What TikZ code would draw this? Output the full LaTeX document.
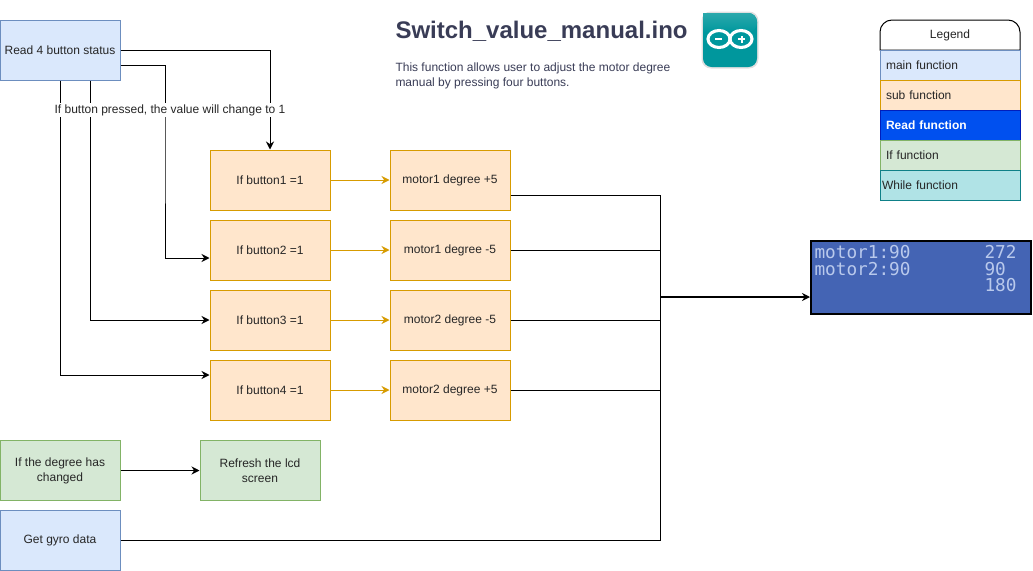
\documentclass[tikz,border=0pt]{standalone}
\usepackage{fontspec}
\setmainfont{Liberation Sans}
\newfontfamily\lcdfont{DejaVu Sans Mono}
\usepackage{tikz}
\usetikzlibrary{arrows.meta,positioning,calc}
\definecolor{mainfill}{HTML}{DAE8FC}
\definecolor{maindraw}{HTML}{6C8EBF}
\definecolor{subfill}{HTML}{FFE6CC}
\definecolor{subdraw}{HTML}{D79B00}
\definecolor{readfill}{HTML}{0050EF}
\definecolor{readdraw}{HTML}{001DBC}
\definecolor{iffill}{HTML}{D5E8D4}
\definecolor{ifdraw}{HTML}{82B366}
\definecolor{whilefill}{HTML}{B0E3E6}
\definecolor{whiledraw}{HTML}{0E8088}
\definecolor{titletext}{HTML}{393C56}
\definecolor{lcdfill}{HTML}{4464B4}
\definecolor{lcdtext}{HTML}{B9C9EC}
\definecolor{icon}{HTML}{00979D}
\definecolor{iconlight}{HTML}{2BA9AC}

\begin{document}
\begin{tikzpicture}[x=0.75pt, y=-0.75pt, line width=0.75pt,
    every node/.style={font=\fontsize{9}{11.25}\selectfont, text=black!85, inner sep=0pt},
    box/.style={draw, minimum width=90pt, minimum height=45pt, align=center},
    mainbox/.style={box, fill=mainfill, draw=maindraw},
    subbox/.style={box, fill=subfill, draw=subdraw},
    ifbox/.style={box, fill=iffill, draw=ifdraw},
    legendrow/.style={draw, minimum width=105pt, minimum height=22.5pt, text width=96pt, align=left},
    flow/.style={-{Stealth[length=6pt,width=6pt]}, black},
    flowsub/.style={-{Stealth[length=6pt,width=6pt]}, subdraw},
    wire/.style={black},
    lcdtxt/.style={font=\lcdfont\fontsize{13.3}{13.3}\selectfont, text=lcdtext, anchor=west}]
  \useasboundingbox (0,0) rectangle (1033,571);

  % Title
  \node[anchor=west, text=titletext, font=\bfseries\fontsize{18}{20}\selectfont] (title) at (395,31) {Switch\_value\_manual.ino};
  \node[anchor=north west, text=titletext, align=left] (descr) at (395,62) {This function allows user to adjust the motor degree\\manual by pressing four buttons.};

  % Arduino icon
  \fill[black!12, rounded corners=7pt] (701.5,11.5) rectangle (758.5,68.5);
  \fill[icon, rounded corners=6.5pt] (703,13) rectangle (757,67);
  \shade[top color=iconlight, bottom color=icon, rounded corners=6.5pt] (703,13) -- (757,13) -- (757,32) [sharp corners] -- (703,32) -- cycle;
  \draw[white, line width=2.3pt] (719,39) ellipse [x radius=11, y radius=8.5];
  \draw[white, line width=2.3pt] (741,39) ellipse [x radius=11, y radius=8.5];
  \fill[white] (715,38) rectangle (722,40);
  \fill[white] (738,38) rectangle (745,40);
  \fill[white] (740.5,35.5) rectangle (742.5,42.5);

  % Main column
  \node[mainbox] (read) at (60,50) {Read 4 button status};
  \node[ifbox] (changed) at (60,470.5) {If the degree has\\changed};
  \node[ifbox] (refresh) at (260,470.5) {Refresh the lcd\\screen};
  \node[mainbox] (gyro) at (60,540) {Get gyro data};

  % Button checks
  \node[subbox] (btnA) at (270,180) {If button1 =1};
  \node[subbox] (btnB) at (270,250) {If button2 =1};
  \node[subbox] (btnC) at (270,320) {If button3 =1};
  \node[subbox] (btnD) at (270,390) {If button4 =1};

  % Motor steps
  \node[subbox] (motA) at (450,180) {motor1 degree +5};
  \node[subbox] (motB) at (450,250) {motor1 degree -5};
  \node[subbox] (motC) at (450,320) {motor2 degree -5};
  \node[subbox] (motD) at (450,390) {motor2 degree +5};

  % LCD
  \node[draw=black, fill=lcdfill, line width=1.5pt, minimum width=165pt, minimum height=54.75pt] (lcd) at (921,277.5) {};
  \node[lcdtxt] (lcdA) at (814,252) {motor1:90};
  \node[lcdtxt] (lcdB) at (814,269) {motor2:90};
  \node[lcdtxt] (lcdC) at (984,252) {272};
  \node[lcdtxt] (lcdD) at (984,269) {90};
  \node[lcdtxt] (lcdE) at (984,285) {180};

  % Legend
  \draw[black, fill=white] (880,50) -- (880,32) arc[start angle=180, end angle=270, radius=12] -- (1008,20) arc[start angle=270, end angle=360, radius=12] -- (1020,50) -- cycle;
  \node (legend) at (950,35) {Legend};
  \node[legendrow, fill=mainfill, draw=maindraw] (lgmain) at (950,65) {main function};
  \node[legendrow, fill=subfill, draw=subdraw] (lgsub) at (950,95) {sub function};
  \node[legendrow, fill=readfill, draw=readdraw, text=white, font=\bfseries\fontsize{9}{11.25}\selectfont] (lgread) at (950,125) {Read function};
  \node[legendrow, fill=iffill, draw=ifdraw] (lgif) at (950,155) {If function};
  \node[legendrow, fill=whilefill, draw=whiledraw, text width=102pt] (lgwhile) at (950,185) {While function};

  % Button wires
  \draw[flow] (read.east) -| (btnA.north);
  \draw[flow] ([yshift=-11.25pt]read.east) -| (165,150) |- ([yshift=-6pt]btnB.west);
  \draw[flow] ([xshift=22.5pt]read.south) |- (btnC.west);
  \draw[flow] (read.south) |- ([yshift=11.25pt]btnD.west);
  \node[fill=white, inner ysep=1pt] (note) at (170,110) {If button pressed, the value will change to 1};

  % Sub flows
  \foreach \a/\b in {btnA/motA, btnB/motB, btnC/motC, btnD/motD}
    \draw[flowsub] (\a) -- (\b);
  \draw[flow] (changed) -- (refresh);

  % To the display
  \coordinate (merge) at (660,297);
  \draw[wire] ([yshift=-11.25pt]motA.east) -| (merge);
  \foreach \a in {motB, motC, motD}
    \draw[wire] (\a.east) -| (merge);
  \draw[wire] (gyro.east) -| (merge);
  \draw[flow, line width=1.1pt] (merge) -- (merge -| lcd.west);
\end{tikzpicture}
\end{document}
